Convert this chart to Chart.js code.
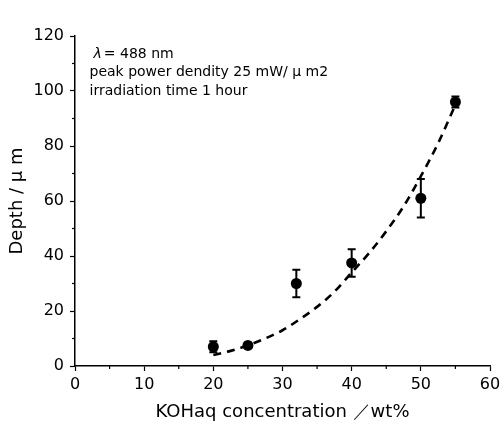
<!DOCTYPE html>
<html>
<head>
<meta charset="utf-8">
<script src="https://cdn.jsdelivr.net/npm/chart.js@4.4.1/dist/chart.umd.min.js"></script>
<style>
html,body{margin:0;padding:0;background:#fff;}
#wrap{width:502px;height:426px;position:relative;}
</style>
</head>
<body>
<div id="wrap"><canvas id="c" width="502" height="426"></canvas></div>
<script>
// measured data
const concentration = [20, 25, 32, 40, 50, 55];
const depth = [7, 7.5, 30, 37.5, 61, 96];
const depthErr = [2, 1, 5, 5, 7, 2];
// dashed fit curve
const fitX = [20, 22.5, 25, 27.5, 30, 32.5, 35, 37.5, 40, 42.5, 45, 47.5, 50, 52.5, 55];
const fitY = [4, 5.5, 7.5, 10, 13, 17, 21.5, 27, 34, 41, 49, 58, 69, 81, 95];
// tick labels
const xTicks = [0, 10, 20, 30, 40, 50, 60];
const yTicks = [0, 20, 40, 60, 80, 100, 120];
const xMinor = [5, 15, 25, 35, 45, 55];
const yMinor = [10, 30, 50, 70, 90, 110];
const noteLambda = "\u03bb";
const noteLines = ["= 488 nm", "peak power dendity 25 mW/ \u03bc m2", "irradiation time 1 hour"];
const xTitle = "KOHaq concentration \uff0fwt%";
const yTitle = "Depth / \u03bc m";

const FONT = "'DejaVu Sans', 'Liberation Sans', sans-serif";

const extras = {
  id: 'extras',
  afterDatasetsDraw(chart) {
    const ctx = chart.ctx;
    const xs = chart.scales.x, ys = chart.scales.y;
    ctx.save();
    ctx.strokeStyle = '#000';
    ctx.lineWidth = 2;
    // error bars
    concentration.forEach((cx, i) => {
      const px = xs.getPixelForValue(cx);
      const top = ys.getPixelForValue(depth[i] + depthErr[i]);
      const bot = ys.getPixelForValue(depth[i] - depthErr[i]);
      ctx.beginPath();
      ctx.moveTo(px, top); ctx.lineTo(px, bot);
      ctx.moveTo(px - 4, top); ctx.lineTo(px + 4, top);
      ctx.moveTo(px - 4, bot); ctx.lineTo(px + 4, bot);
      ctx.stroke();
    });
    // minor ticks
    ctx.lineWidth = 1.2;
    const ax = chart.chartArea;
    xMinor.forEach(v => {
      const px = xs.getPixelForValue(v);
      ctx.beginPath(); ctx.moveTo(px, ax.bottom); ctx.lineTo(px, ax.bottom + 3); ctx.stroke();
    });
    yMinor.forEach(v => {
      const py = ys.getPixelForValue(v);
      ctx.beginPath(); ctx.moveTo(ax.left, py); ctx.lineTo(ax.left - 3, py); ctx.stroke();
    });
    // annotation
    ctx.fillStyle = '#000';
    ctx.textBaseline = 'middle';
    ctx.textAlign = 'left';
    const tx = xs.getPixelForValue(2.1);
    const ty0 = ys.getPixelForValue(113.2);
    const ty1 = ys.getPixelForValue(106.7);
    const ty2 = ys.getPixelForValue(99.8);
    ctx.font = "italic 14px " + FONT;
    ctx.fillText(noteLambda, tx + 4, ty0);
    const lw = ctx.measureText(noteLambda).width;
    ctx.font = "14px " + FONT;
    ctx.fillText(noteLines[0], tx + 4 + lw + 2, ty0);
    ctx.fillText(noteLines[1], tx, ty1);
    ctx.fillText(noteLines[2], tx, ty2);
    ctx.restore();
  }
};

new Chart(document.getElementById('c'), {
  type: 'scatter',
  data: {
    datasets: [
      {
        label: 'data',
        data: concentration.map((x, i) => ({x: x, y: depth[i]})),
        pointRadius: 5.5,
        pointBackgroundColor: '#000',
        pointBorderColor: '#000',
        pointBorderWidth: 0,
        showLine: false,
        order: 0
      },
      {
        label: 'fit',
        data: fitX.map((x, i) => ({x: x, y: fitY[i]})),
        showLine: true,
        borderColor: '#000',
        borderWidth: 2.6,
        borderDash: [8, 6],
        pointRadius: 0,
        tension: 0.4,
        cubicInterpolationMode: 'monotone',
        order: 1
      }
    ]
  },
  options: {
    responsive: false,
    animation: false,
    layout: {padding: {left: 0, right: 12, top: 36, bottom: 0}},
    plugins: {legend: {display: false}, tooltip: {enabled: false}},
    scales: {
      x: {
        type: 'linear', min: 0, max: 60,
        afterBuildTicks: s => { s.ticks = xTicks.map(v => ({value: v})); },
        afterFit: s => { s.height = 60; s.paddingRight = 0; s.paddingLeft = 0; },
        grid: {display: true, drawOnChartArea: false, drawTicks: true, tickLength: 5, color: '#000', tickWidth: 1.2},
        border: {display: true, color: '#000', width: 1.5},
        ticks: {color: '#000', font: {family: FONT, size: 16}, padding: 4, maxRotation: 0},
        title: {display: true, text: xTitle, color: '#000', font: {family: FONT, size: 18}, padding: {top: 2, bottom: 3}}
      },
      y: {
        type: 'linear', min: 0, max: 120,
        afterBuildTicks: s => { s.ticks = yTicks.map(v => ({value: v})); },
        afterFit: s => { s.width = 75; s.paddingTop = 0; s.paddingBottom = 0; },
        grid: {display: true, drawOnChartArea: false, drawTicks: true, tickLength: 5, color: '#000', tickWidth: 1.2},
        border: {display: true, color: '#000', width: 1.5},
        ticks: {color: '#000', font: {family: FONT, size: 16}, padding: 6},
        title: {display: true, text: yTitle, color: '#000', font: {family: FONT, size: 18}, padding: {top: 7, bottom: 4}}
      }
    }
  },
  plugins: [extras]
});
</script>
</body>
</html>
